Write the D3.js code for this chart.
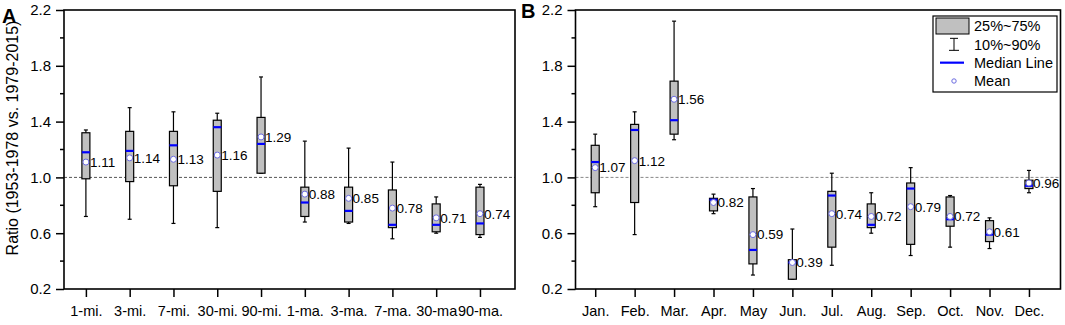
<!DOCTYPE html>
<html lang="en">
<head>
  <meta charset="UTF-8" />
  <title>Ratio box plots</title>
  <script src="https://cdn.jsdelivr.net/npm/d3@7"></script>
  <style>
    html, body { margin: 0; padding: 0; background: #fff; overflow: hidden; }
    svg { display: block; font-family: Arial, "Liberation Sans", sans-serif; }
  </style>
</head>
<body>
  <script>
    // Panel A: ratio for max/min flow indices
    const catsA = ["1-mi.", "3-mi.", "7-mi.", "30-mi.", "90-mi.", "1-ma.", "3-ma.", "7-ma.", "30-ma", "90-ma."];
    const p90A  = [1.34, 1.50, 1.47, 1.46, 1.72, 1.26, 1.21, 1.11, 0.86, 0.95];
    const p75A  = [1.32, 1.33, 1.33, 1.41, 1.43, 0.93, 0.93, 0.91, 0.81, 0.93];
    const medA  = [1.18, 1.19, 1.23, 1.36, 1.24, 0.82, 0.76, 0.66, 0.66, 0.67];
    const p25A  = [0.99, 0.97, 0.94, 0.90, 1.03, 0.72, 0.68, 0.64, 0.61, 0.59];
    const p10A  = [0.72, 0.70, 0.67, 0.64, 1.03, 0.68, 0.67, 0.56, 0.60, 0.57];
    const meanA = [1.11, 1.14, 1.13, 1.16, 1.29, 0.88, 0.85, 0.78, 0.71, 0.74];

    // Panel B: monthly ratio
    const catsB = ["Jan.", "Feb.", "Mar.", "Apr.", "May", "Jun.", "Jul.", "Aug.", "Sep.", "Oct.", "Nov.", "Dec."];
    const p90B  = [1.31, 1.47, 2.12, 0.88, 0.92, 0.63, 1.03, 0.89, 1.07, 0.87, 0.71, 1.05];
    const p75B  = [1.23, 1.38, 1.69, 0.85, 0.86, 0.41, 0.90, 0.81, 0.96, 0.86, 0.69, 0.98];
    const medB  = [1.11, 1.34, 1.41, 0.84, 0.48, 0.39, 0.87, 0.66, 0.92, 0.70, 0.59, 0.94];
    const p25B  = [0.89, 0.82, 1.31, 0.76, 0.38, 0.27, 0.50, 0.64, 0.52, 0.65, 0.54, 0.92];
    const p10B  = [0.79, 0.59, 1.27, 0.74, 0.30, 0.27, 0.37, 0.60, 0.44, 0.50, 0.49, 0.89];
    const meanB = [1.07, 1.12, 1.56, 0.82, 0.59, 0.39, 0.74, 0.72, 0.79, 0.72, 0.61, 0.96];

    const yMajor = [0.2, 0.6, 1.0, 1.4, 1.8, 2.2];
    const yMinor = [0.4, 0.8, 1.2, 1.6, 2.0];
    const legendItems = ["25%~75%", "10%~90%", "Median Line", "Mean"];

    const width = 1065, height = 325;
    const boxFill = "#c0c0c0";
    const medianColor = "#0000ff";
    const meanColor = "#6b6be0";

    const svg = d3.select("body").append("svg")
      .attr("width", width)
      .attr("height", height);

    // y title (shared, left side)
    svg.append("text")
      .attr("transform", "translate(17.5,138) rotate(-90)")
      .attr("text-anchor", "middle")
      .attr("font-size", 16)
      .text("Ratio (1953-1978 vs. 1979-2015)");

    function drawPanel(cfg) {
      const { left, right, top, bottom, cats, p10, p25, med, p75, p90, mean, letter, letterX, letterY, refColor } = cfg;
      const g = svg.append("g");

      const x = d3.scaleLinear()
        .domain([-0.5, cats.length - 0.2])
        .range([left, right]);
      const y = d3.scaleLinear()
        .domain([0.2, 2.2])
        .range([bottom, top]);

      // reference line at 1.0
      g.append("line")
        .attr("x1", left).attr("x2", right)
        .attr("y1", y(1)).attr("y2", y(1))
        .attr("stroke", refColor)
        .attr("stroke-width", 1)
        .attr("stroke-dasharray", "3,2");

      // y axis: major + minor ticks
      const yAxis = g.append("g")
        .attr("transform", `translate(${left},0)`)
        .call(d3.axisLeft(y).tickValues(yMajor).tickSize(8).tickPadding(5).tickFormat(d3.format(".1f")));
      yAxis.select(".domain").remove();
      yAxis.selectAll("line").attr("stroke-width", 1.5);
      yAxis.selectAll("text").attr("font-size", 15).attr("font-family", null).attr("fill", "#000");

      g.append("g")
        .selectAll("line")
        .data(yMinor)
        .join("line")
        .attr("x1", left - 4).attr("x2", left)
        .attr("y1", d => y(d)).attr("y2", d => y(d))
        .attr("stroke", "#000")
        .attr("stroke-width", 1.5);

      // x axis
      const xAxis = g.append("g")
        .attr("transform", `translate(0,${bottom})`)
        .call(d3.axisBottom(x).tickValues(d3.range(cats.length)).tickSize(8).tickPadding(9).tickFormat(i => cats[i]));
      xAxis.select(".domain").remove();
      xAxis.selectAll("line").attr("stroke-width", 1.5);
      xAxis.selectAll("text").attr("font-size", 14.5).attr("font-family", null).attr("fill", "#000");

      // frame
      g.append("rect")
        .attr("x", left).attr("y", top)
        .attr("width", right - left).attr("height", bottom - top)
        .attr("fill", "none")
        .attr("stroke", "#000")
        .attr("stroke-width", 1.6);

      const bw = 8, cap = 4;
      const idx = d3.range(cats.length);
      const box = g.append("g").selectAll("g").data(idx).join("g");

      // whiskers
      box.append("line")
        .attr("x1", i => x(i)).attr("x2", i => x(i))
        .attr("y1", i => y(p10[i])).attr("y2", i => y(p90[i]))
        .attr("stroke", "#000").attr("stroke-width", 1.2);
      box.append("line")
        .attr("x1", i => x(i) - cap / 2).attr("x2", i => x(i) + cap / 2)
        .attr("y1", i => y(p90[i])).attr("y2", i => y(p90[i]))
        .attr("stroke", "#000").attr("stroke-width", 1.2);
      box.append("line")
        .attr("x1", i => x(i) - cap / 2).attr("x2", i => x(i) + cap / 2)
        .attr("y1", i => y(p10[i])).attr("y2", i => y(p10[i]))
        .attr("stroke", "#000").attr("stroke-width", 1.2);

      // boxes
      box.append("rect")
        .attr("x", i => x(i) - bw / 2)
        .attr("y", i => y(p75[i]))
        .attr("width", bw)
        .attr("height", i => y(p25[i]) - y(p75[i]))
        .attr("fill", boxFill)
        .attr("stroke", "#000")
        .attr("stroke-width", 1.2);

      // median
      box.append("line")
        .attr("x1", i => x(i) - bw / 2).attr("x2", i => x(i) + bw / 2)
        .attr("y1", i => y(med[i])).attr("y2", i => y(med[i]))
        .attr("stroke", medianColor).attr("stroke-width", 2.2);

      // mean
      box.append("circle")
        .attr("cx", i => x(i)).attr("cy", i => y(mean[i]))
        .attr("r", 3)
        .attr("fill", "#fff")
        .attr("stroke", meanColor)
        .attr("stroke-width", 1);

      box.append("text")
        .attr("x", i => x(i) + 4)
        .attr("y", i => y(mean[i]))
        .attr("dy", "0.36em")
        .attr("font-size", 13.5)
        .text(i => mean[i].toFixed(2));

      // panel letter
      svg.append("text")
        .attr("x", letterX).attr("y", letterY)
        .attr("font-size", 20)
        .attr("font-weight", "bold")
        .text(letter);

      return { x, y };
    }

    drawPanel({
      left: 64, right: 515, top: 10, bottom: 289,
      cats: catsA, p10: p10A, p25: p25A, med: medA, p75: p75A, p90: p90A, mean: meanA,
      letter: "A", letterX: 2, letterY: 23, refColor: "#555"
    });

    drawPanel({
      left: 575.5, right: 1060.5, top: 10, bottom: 289,
      cats: catsB, p10: p10B, p25: p25B, med: medB, p75: p75B, p90: p90B, mean: meanB,
      letter: "B", letterX: 521, letterY: 18, refColor: "#888"
    });

    // legend (panel B, top right)
    const lg = svg.append("g").attr("transform", "translate(933,16)");
    lg.append("rect")
      .attr("width", 124).attr("height", 76)
      .attr("fill", "#fff")
      .attr("stroke", "#000")
      .attr("stroke-width", 1.2);

    const rowY = d3.scalePoint().domain(legendItems).range([10, 65]);

    lg.append("rect")
      .attr("x", 3).attr("y", rowY(legendItems[0]) - 8)
      .attr("width", 33).attr("height", 16)
      .attr("fill", boxFill).attr("stroke", "#000").attr("stroke-width", 1);

    const wy = rowY(legendItems[1]);
    lg.append("line").attr("x1", 21).attr("x2", 21).attr("y1", wy - 6).attr("y2", wy + 6).attr("stroke", "#000");
    lg.append("line").attr("x1", 17).attr("x2", 25).attr("y1", wy - 6).attr("y2", wy - 6).attr("stroke", "#000");
    lg.append("line").attr("x1", 16).attr("x2", 26).attr("y1", wy + 6).attr("y2", wy + 6).attr("stroke", "#000");

    lg.append("line")
      .attr("x1", 7).attr("x2", 31)
      .attr("y1", rowY(legendItems[2])).attr("y2", rowY(legendItems[2]))
      .attr("stroke", medianColor).attr("stroke-width", 2.2);

    lg.append("circle")
      .attr("cx", 21).attr("cy", rowY(legendItems[3]))
      .attr("r", 2.2)
      .attr("fill", "#fff").attr("stroke", meanColor).attr("stroke-width", 1);

    lg.selectAll("text.item")
      .data(legendItems)
      .join("text")
      .attr("class", "item")
      .attr("x", 41)
      .attr("y", d => rowY(d))
      .attr("dy", "0.36em")
      .attr("font-size", 14.5)
      .text(d => d);
  </script>
</body>
</html>
